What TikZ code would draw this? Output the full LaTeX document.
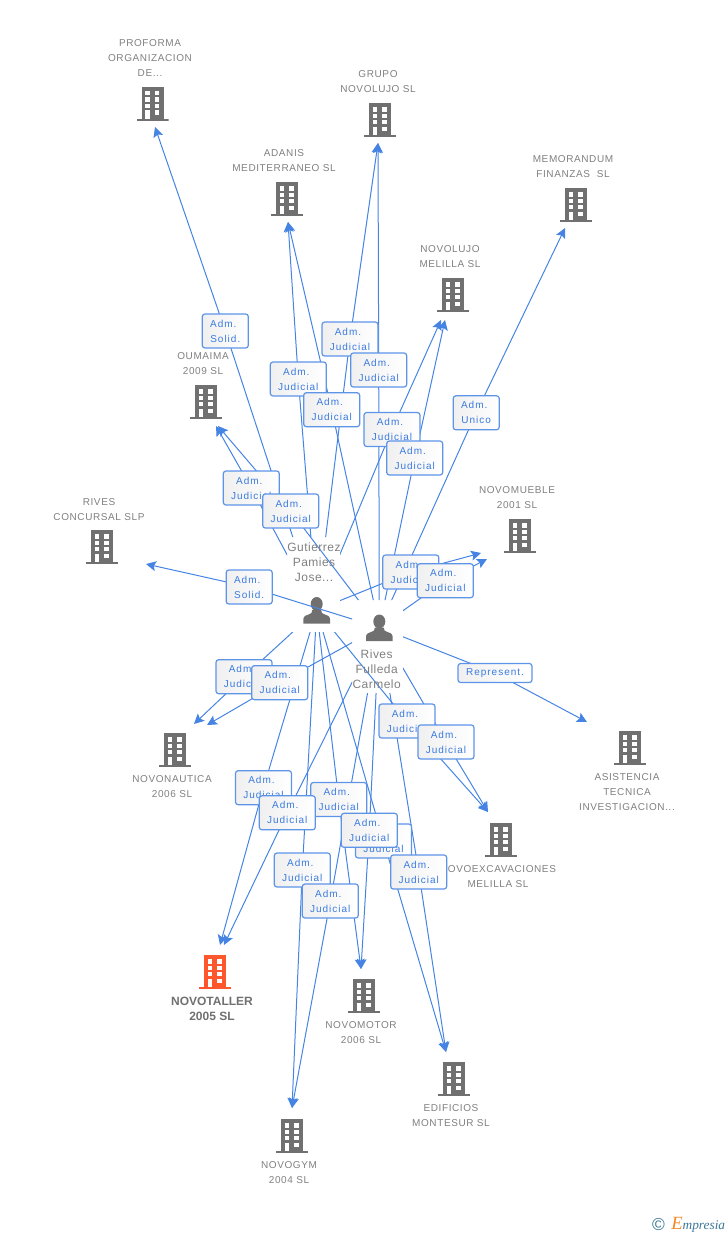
\documentclass[tikz,border=0pt]{standalone}
\usepackage{fontspec}
\usepackage{tikz}
\usetikzlibrary{arrows.meta, backgrounds}
\setmainfont{Liberation Sans}
\newfontfamily\namefont[LetterSpace=6]{Liberation Sans}
\newfontfamily\boxfont[LetterSpace=10]{Liberation Sans}
\newfontfamily\personfont[LetterSpace=4]{Liberation Sans}
\newfontfamily\logofont[Ligatures=TeX]{Liberation Serif}
\definecolor{linkblue}{RGB}{70,132,228}
\definecolor{boxblue}{RGB}{92,148,232}
\definecolor{textblue}{RGB}{58,122,224}
\definecolor{icongray}{RGB}{112,112,112}
\definecolor{namegray}{RGB}{128,128,128}
\definecolor{iconred}{RGB}{255,87,45}
\definecolor{logoteal}{RGB}{60,120,150}
\definecolor{logoorange}{RGB}{245,135,35}
\newcommand{\adm}{Adm.\kern3pt}
\tikzset{
  link/.style={linkblue, line width=0.75pt, -{Stealth[length=7.5pt,width=7.5pt,inset=1.5pt]}},
  admbox/.style={rectangle, draw=boxblue, line width=0.9pt, rounded corners=2pt,
    left color=black!6, right color=white, inner sep=0pt, align=center, text=textblue,
    font=\boxfont\fontsize{7.5}{11.25}\selectfont, minimum width=42pt, minimum height=25.5pt},
  smallbox/.style={admbox, minimum width=34.5pt},
  firmlabel/.style={inner sep=0pt, align=center, text=namegray,
    font=\namefont\fontsize{7.5}{11.25}\selectfont},
  mainlabel/.style={inner sep=0pt, align=center, text=icongray,
    font=\bfseries\fontsize{9}{11.25}\selectfont},
  personlabel/.style={inner sep=0pt, align=center, text=namegray,
    font=\personfont\fontsize{9}{11.25}\selectfont},
  firm/.style={rectangle, inner sep=0pt, minimum width=24pt, minimum height=25.5pt,
    path picture={
      \begin{scope}[shift={(path picture bounding box.center)}]
        \fill[#1] (-11,-17) rectangle (11,15);
        \fill[#1] (-16,15) rectangle (16,17);
        \foreach \r in {-12.7,-6.3,0} {
          \fill[white] (-7.5,\r) rectangle (-2.7,\r+4.3);
          \fill[white] (2,\r) rectangle (6.8,\r+4.3);
        }
        \fill[white] (-7.5,6.5) rectangle (-2.7,15);
        \fill[white] (2,6.5) rectangle (6.8,11);
      \end{scope}
    }},
  firm/.default=icongray,
  person/.style={circle, inner sep=0pt, minimum size=44pt,
    path picture={
      \begin{scope}[shift={(path picture bounding box.center)}]
        \fill[icongray] (0,-6) ellipse (6 and 7);
        \fill[icongray] (-13.3,13.5) -- (-13.3,9) .. controls (-13.3,6) and (-10,5) .. (-7,4)
          .. controls (-5.5,3.5) and (-4.5,3) .. (-4.5,0) -- (4.5,0)
          .. controls (4.5,3) and (5.5,3.5) .. (7,4) .. controls (10,5) and (13.3,6) .. (13.3,9)
          -- (13.3,13.5) -- cycle;
      \end{scope}
    }}
}
\begin{document}
\begin{tikzpicture}[x=0.75pt, y=-0.75pt]
\useasboundingbox (0,0) rectangle (728,1235);

% Companies
\foreach \n/\x/\y in {proforma/152.5/103.7, grupo/380/120, adanis/287/199, memorandum/576/205,
    novolujo/453/295, oumaima/206/402, concursal/102/547, novomueble/520/536,
    novonautica/175/750, asistencia/630/748, novoexcavaciones/501/840,
    novomotor/364/996, edificios/454/1079, novogym/292/1136} {
  \node[firm] (\n) at (\x,\y) {};
}
\node[firm=iconred] (novotaller) at (215,972) {};

% Arrow ends
\foreach \n/\x/\y in {proforma/155/127, grupo/378/143, adanis/288/222, memorandum/565/228,
    gnovolujo/441/320, rnovolujo/445/320, goumaima/216/426, roumaima/218/426, concursal/146/564,
    gnovomueble/481/553, rnovomueble/487/559, gnovonautica/194/724, rnovonautica/207/725,
    asistencia/587/722, novoexcavaciones/488/812, gnovotaller/220/945, rnovotaller/224/945,
    novomotor/361/969, edificios/446/1052, novogym/292/1108} {
  \coordinate (end\n) at (\x,\y);
}

% Company names
\node[firmlabel] (nproforma) at (150,58) {PROFORMA\\ORGANIZACION\\DE...};
\node[firmlabel] (ngrupo) at (378,81.5) {GRUPO\\NOVOLUJO SL};
\node[firmlabel] (nadanis) at (284,160.5) {ADANIS\\MEDITERRANEO SL};
\node[firmlabel] (nmemorandum) at (573,166.5) {MEMORANDUM\\FINANZAS\ \ SL};
\node[firmlabel] (nnovolujo) at (450,256.5) {NOVOLUJO\\MELILLA SL};
\node[firmlabel] (noumaima) at (203,363.5) {OUMAIMA\\2009 SL};
\node[firmlabel] (nconcursal) at (99,509.5) {RIVES\\CONCURSAL SLP};
\node[firmlabel] (nnovomueble) at (517,497.5) {NOVOMUEBLE\\2001 SL};
\node[firmlabel] (nnovonautica) at (172,786.5) {NOVONAUTICA\\2006 SL};
\node[firmlabel] (nasistencia) at (627,792) {ASISTENCIA\\TECNICA\\INVESTIGACION...};
\node[firmlabel] (nnovoexcavaciones) at (498,876.5) {NOVOEXCAVACIONES\\MELILLA SL};
\node[mainlabel] (nnovotaller) at (212,1008.5) {NOVOTALLER\\2005 SL};
\node[firmlabel] (nnovomotor) at (361,1032.5) {NOVOMOTOR\\2006 SL};
\node[firmlabel] (nedificios) at (451,1115.5) {EDIFICIOS\\MONTESUR SL};
\node[firmlabel] (nnovogym) at (289,1172.5) {NOVOGYM\\2004 SL};

% Person names
\node[personlabel] (ngutierrez) at (314,562.5) {Gutierrez\\Pamies\\Jose...};
\node[personlabel] (nrives) at (376.7,669.5) {Rives\\Fulleda\\Carmelo};

% Role boxes, later ones lie on top
\node[smallbox] (gproforma) at (225.3,331) {\adm\\Solid.};
\node[smallbox] (rconcursal) at (249.2,587) {\adm\\Solid.};
\node[smallbox] (rmemorandum) at (476.2,412.8) {\adm\\Unico};
\foreach \b/\x/\y in {ggrupo/350/339, rgrupo/378.7/370, gadanis/298.3/379, radanis/331.7/409.7,
    gnovolujo/392/429.5, rnovolujo/414.7/458, goumaima/251.3/488, roumaima/290.7/511,
    gnovomueble/410.8/572, rnovomueble/445.3/580.7, gnovonautica/244/676.7, rnovonautica/279.7/682.7,
    gnovoexcavaciones/407/721, rnovoexcavaciones/446/742, gnovotaller/263.5/787.7,
    gnovomotor/338.7/799.5, rnovotaller/287.3/812.8, gedificios/383.5/841, rnovomotor/369.3/830.3,
    redificios/418.7/872, gnovogym/302.3/870, rnovogym/330.3/901} {
  \node[admbox] (\b) at (\x,\y) {\adm\\Judicial};
}
\node[admbox, minimum width=55.5pt, minimum height=14.25pt] (rasistencia) at (495,673) {Represent.};

% Persons and connections
\begin{pgfonlayer}{background}
\node[person] (gutierrez) at (316.7,610) {};
\node[person] (rives) at (379.3,627.5) {};
\begin{scope}[even odd rule]
  \clip (0,0) rectangle (728,1235) (287,537) rectangle (340,632);
  \foreach \b/\t in {gproforma/proforma, ggrupo/grupo, gadanis/adanis, gnovolujo/gnovolujo,
      goumaima/goumaima, gnovomueble/gnovomueble, gnovonautica/gnovonautica,
      gnovoexcavaciones/novoexcavaciones, gnovotaller/gnovotaller, gnovomotor/novomotor,
      gedificios/edificios, gnovogym/novogym} {
    \draw[link] (gutierrez.center) -- (\b.center) -- (end\t);
  }
\end{scope}
\begin{scope}[even odd rule]
  \clip (0,0) rectangle (728,1235) (352,600) rectangle (403,693);
  \foreach \b/\t in {rgrupo/grupo, radanis/adanis, rmemorandum/memorandum, rnovolujo/rnovolujo,
      roumaima/roumaima, rconcursal/concursal, rnovomueble/rnovomueble, rnovonautica/rnovonautica,
      rasistencia/asistencia, rnovoexcavaciones/novoexcavaciones, rnovotaller/rnovotaller,
      rnovomotor/novomotor, redificios/edificios, rnovogym/novogym} {
    \draw[link] (rives.center) -- (\b.center) -- (end\t);
  }
\end{scope}
\end{pgfonlayer}

% Logo
\node[inner sep=0pt, text=logoteal, font=\fontsize{13}{13}\selectfont] (copyright) at (658.5,1224.5) {©};
\node[inner sep=0pt, text=logoteal, anchor=base west, font=\logofont\itshape\fontsize{10}{12}\selectfont]
  (logo) at (671,1229) {{\color{logoorange}\fontsize{14}{14}\selectfont E}mpresia};
\end{tikzpicture}
\end{document}
